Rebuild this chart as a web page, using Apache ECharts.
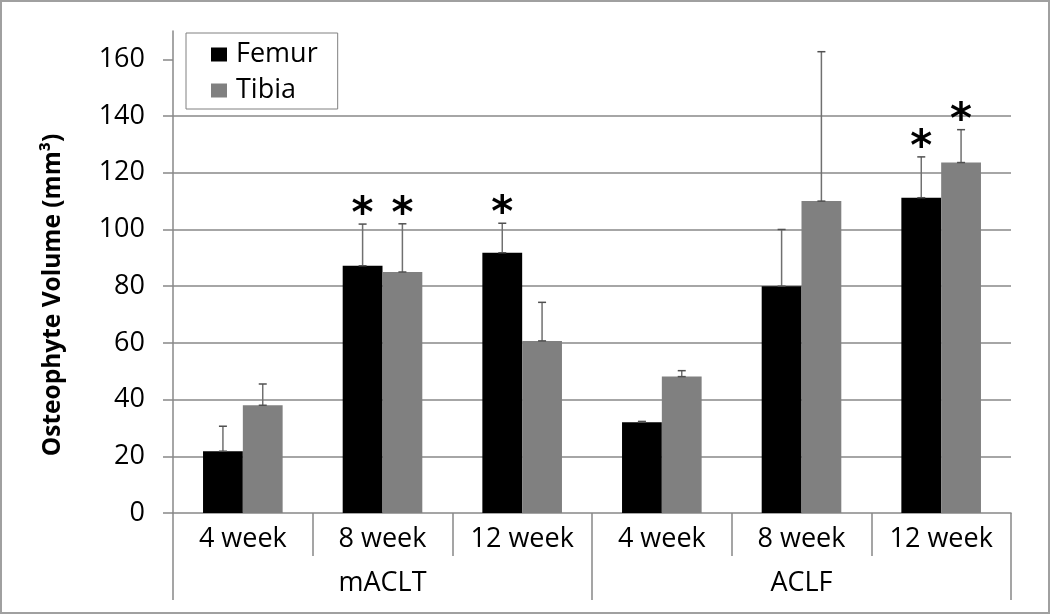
<!DOCTYPE html>
<html>
<head>
<meta charset="utf-8">
<script src="https://cdn.jsdelivr.net/npm/echarts@6/dist/echarts.min.js"></script>
<style>
html,body{margin:0;padding:0;background:#fff;}
#wrap{position:absolute;left:0;top:0;width:1046px;height:610px;border:2px solid #a0a0a0;}
#chart{width:1046px;height:610px;}
</style>
</head>
<body>
<div id="wrap"><div id="chart"></div></div>
<script>
var weeks = ['4 week','8 week','12 week','4 week','8 week','12 week'];
var groups = ['mACLT','ACLF'];
var femur = [21.8, 87.2, 91.8, 32.0, 80.0, 111.2];
var tibia = [38.0, 85.0, 60.7, 48.1, 110.0, 123.6];
var femurErr = [8.8, 14.7, 10.4, 0.3, 20.0, 14.4];
var tibiaErr = [7.5, 17.0, 13.6, 2.1, 52.7, 11.6];
var femurSig = [0, 1, 1, 0, 0, 1];
var tibiaSig = [0, 1, 0, 0, 0, 1];
var yTicks = [0, 20, 40, 60, 80, 100, 120, 140, 160];

var FONT = 'Open Sans';
var chart = echarts.init(document.getElementById('chart'), null, {renderer:'canvas'});

function errSeries(name, vals, errs, sigs, dir) {
  var data = vals.map(function(v, i){ return [i, v, v + errs[i], sigs[i]]; });
  return {
    type: 'custom',
    name: name + ' err',
    xAxisIndex: 0,
    yAxisIndex: 0,
    z: 5,
    silent: true,
    data: data,
    renderItem: function(params, api) {
      var idx = api.value(0);
      var base = api.coord([idx, api.value(1)]);
      var top = api.coord([idx, api.value(2)]);
      var bw = api.size([1, 0])[0] * 0.57 / 2;
      var x = base[0] + dir * bw / 2;
      var cap = 4;
      var children = [
        {type:'line', shape:{x1:x, y1:base[1], x2:x, y2:top[1]}, style:{stroke:'#707070', lineWidth:1.5}},
        {type:'line', shape:{x1:x-cap, y1:top[1], x2:x+cap, y2:top[1]}, style:{stroke:'#505050', lineWidth:1.5}},
        {type:'line', shape:{x1:x-cap, y1:base[1], x2:x+cap, y2:base[1]}, style:{stroke:'#505050', lineWidth:1.5}}
      ];
      if (api.value(3)) {
        children.push({type:'text', style:{text:'*', x:x, y:top[1]+13, textAlign:'center', textVerticalAlign:'bottom', font:'bold 42px "DejaVu Sans"', fill:'#000'}});
      }
      return {type:'group', children: children};
    }
  };
}

var option = {
  animation: false,
  backgroundColor: '#fff',
  grid: {left: 171, right: 37, top: 29, bottom: 99, containLabel: false},
  legend: {
    show: true,
    orient: 'vertical',
    left: 184,
    top: 31,
    backgroundColor: '#fff',
    borderColor: '#808080',
    borderWidth: 1,
    padding: [8, 20, 5, 25],
    itemWidth: 16,
    itemHeight: 14,
    itemGap: 9,
    icon: 'rect',
    data: ['Femur', 'Tibia'],
    textStyle: {fontFamily: FONT, fontSize: 27, color: '#000', padding:[0,0,0,4]}
  },
  xAxis: [
    {
      type: 'category',
      data: weeks,
      position: 'bottom',
      axisLine: {show: true, lineStyle: {color: '#888', width: 1.5}},
      axisTick: {show: true, interval: 0, length: 43, lineStyle: {color: '#888', width: 1.5}},
      axisLabel: {interval: 0, margin: 13, fontFamily: FONT, fontSize: 27, color: '#000'},
      splitLine: {show: false}
    },
    {
      type: 'category',
      data: groups,
      position: 'bottom',
      axisLine: {show: false},
      axisTick: {show: true, interval: 0, length: 87, lineStyle: {color: '#888', width: 1.5}},
      axisLabel: {interval: 0, margin: 57, fontFamily: FONT, fontSize: 27, color: '#000'},
      splitLine: {show: false}
    }
  ],
  yAxis: {
    type: 'value',
    min: 0,
    max: 170,
    interval: 20,
    name: 'Osteophyte Volume (mm³)',
    nameLocation: 'middle',
    nameGap: 107,
    nameTextStyle: {fontFamily: FONT, fontWeight: 'bold', fontSize: 24.5, color: '#000', padding: [0, 46, 0, 0]},
    axisLine: {show: true, lineStyle: {color: '#888', width: 1.5}},
    axisTick: {show: true, length: 10, customValues: yTicks, lineStyle: {color: '#888', width: 1.5}},
    axisLabel: {margin: 28, customValues: yTicks, fontFamily: FONT, fontSize: 27, color: '#000'},
    splitLine: {show: true, showMaxLine: false, showMinLine: false, lineStyle: {color: '#888', width: 1.5}}
  },
  series: [
    {name: 'Femur', type: 'bar', data: femur, barGap: '0%', barCategoryGap: '43%', itemStyle: {color: '#000'}, z: 2},
    {name: 'Tibia', type: 'bar', data: tibia, barGap: '0%', barCategoryGap: '43%', itemStyle: {color: '#808080'}, z: 2},
    errSeries('Femur', femur, femurErr, femurSig, -1),
    errSeries('Tibia', tibia, tibiaErr, tibiaSig, 1)
  ]
};
chart.setOption(option);
</script>
</body>
</html>
